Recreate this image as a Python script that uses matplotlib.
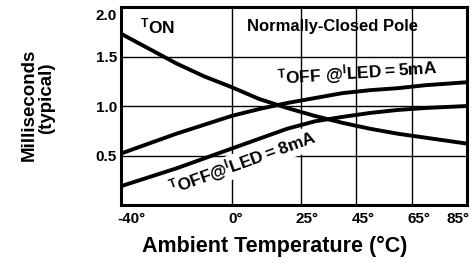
import matplotlib
matplotlib.use("Agg")
import matplotlib.pyplot as plt
import matplotlib.transforms as mtransforms

plt.rcParams['font.family'] = ['Liberation Sans', 'DejaVu Sans']
plt.rcParams['mathtext.default'] = 'regular'

temps = [-40, -30, -20, -10, 0, 10, 20, 30, 40, 50, 60, 70, 85]
t_on = [1.73, 1.58, 1.43, 1.30, 1.19, 1.07, 0.98, 0.90, 0.83, 0.77, 0.72, 0.68, 0.62]
t_off_5ma = [0.52, 0.62, 0.72, 0.81, 0.90, 0.97, 1.03, 1.08, 1.13, 1.16, 1.18, 1.21, 1.24]
t_off_8ma = [0.19, 0.28, 0.37, 0.47, 0.57, 0.67, 0.77, 0.845, 0.89, 0.93, 0.96, 0.98, 1.00]

xticks = [-40, 0, 25, 45, 65, 85]
xtick_labels = ['-40°', '0°', '25°', '45°', '65°', '85°']
yticks = [0.5, 1.0, 1.5, 2.0]
ytick_labels = ['0.5', '1.0', '1.5', '2.0']

fig = plt.figure(figsize=(4.75, 2.63), dpi=100)
ax = fig.add_axes([121/475, 1-205/263, 346/475, 198/263])
ax.set_xlim(-40, 85)
ax.set_ylim(0, 2.0)

# grid
for v in [0.5, 1.0, 1.5]:
    ax.axhline(v, color='black', lw=1.0, zorder=1)
for v in [0, 25, 45, 65]:
    ax.axvline(v, color='black', lw=1.0, zorder=1)

for series in (t_on, t_off_5ma, t_off_8ma):
    ax.plot(temps, series, color='black', lw=2.8, solid_capstyle='butt', zorder=3)

for s in ax.spines.values():
    s.set_linewidth(2.2)

ax.set_xticks(xticks)
ax.set_xticklabels(xtick_labels, fontsize=11, fontweight='bold')
ax.set_yticks(yticks)
ax.set_yticklabels(ytick_labels, fontsize=11, fontweight='bold')
ax.tick_params(length=0, pad=5)
ax.tick_params(axis='y', pad=3)

# adjust x tick label positions
offsets = {'-40°': 10, '0°': 4, '25°': 6, '45°': 7, '65°': 7, '85°': -9}
for lbl in ax.get_xticklabels():
    dx = offsets.get(lbl.get_text(), 0)
    lbl.set_transform(lbl.get_transform() + mtransforms.ScaledTranslation(dx/100, 0, fig.dpi_scale_trans))
for lbl in ax.get_yticklabels():
    if lbl.get_text() == '2.0':
        lbl.set_transform(lbl.get_transform() + mtransforms.ScaledTranslation(0, -7/100, fig.dpi_scale_trans))

fig.text(29/475, 1-105/263, 'Milliseconds', rotation=90, ha='center', va='center',
         fontsize=13.5, fontweight='bold')
fig.text(47/475, 1-98/263, '(typical)', rotation=90, ha='center', va='center',
         fontsize=13.5, fontweight='bold')
fig.text(275/475, 1-246/263, 'Ambient Temperature (°C)', ha='center', va='center',
         fontsize=15.5, fontweight='bold')

ax.text(0.104, 0.904, r'$^{T}ON$', transform=ax.transAxes, ha='center', va='center',
        fontsize=12.5, fontweight='bold', zorder=4)
ax.text(0.61, 0.90, 'Normally-Closed Pole', transform=ax.transAxes, ha='center', va='center',
        fontsize=12, fontweight='bold', zorder=4)
ax.text(0.682, 0.665, r'$^{T}OFF\ @^{I}LED=5mA$', transform=ax.transAxes,
        ha='center', va='center', fontsize=12.5, fontweight='bold', rotation=4, zorder=4)
ax.text(0.353, 0.212, r'$^{T}OFF@^{I}LED=8mA$', transform=ax.transAxes,
        ha='center', va='center', fontsize=12.5, fontweight='bold', rotation=20, zorder=4,
        bbox=dict(facecolor='white', edgecolor='none', pad=0.5))

fig.savefig('out.png', dpi=100)
